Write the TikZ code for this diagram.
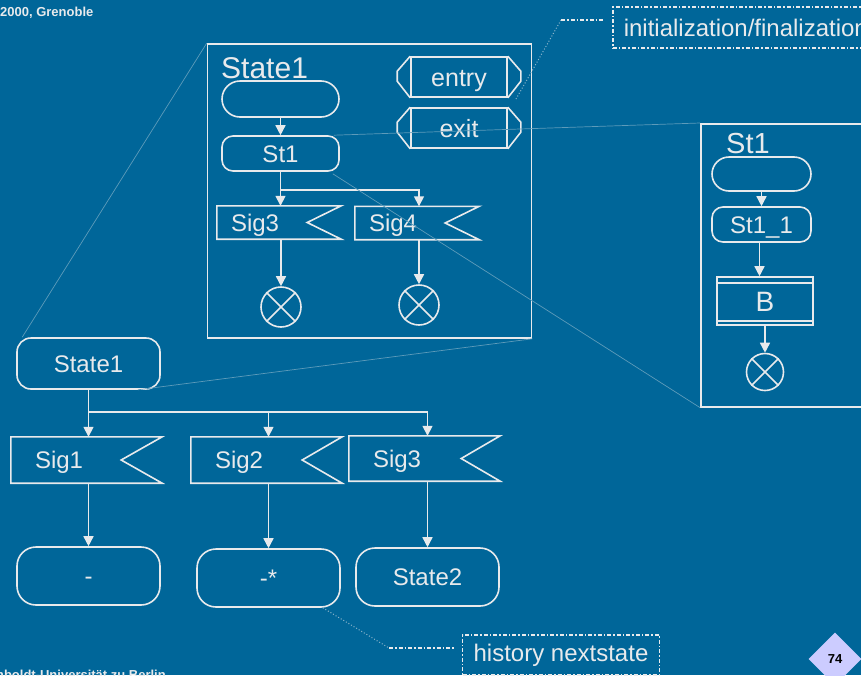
\documentclass[tikz,border=0pt]{standalone}
\usepackage{fontspec}
\setmainfont{Liberation Sans}
\usetikzlibrary{arrows.meta,shapes.geometric,calc}
\definecolor{bg}{RGB}{0,102,153}
\definecolor{fg}{RGB}{232,234,236}
\definecolor{tag}{RGB}{204,204,255}
\newcommand\fsz[1]{\fontsize{#1}{#1}\selectfont}
% input-signal outline: open right side with an inward notch
\newcommand\sigoutline[2]{\draw[ln] (#1.north east) -- (#1.north west) -- (#1.south west) -- (#1.south east) -- ([xshift=-#2pt]#1.east) -- cycle;}
% circle with a cross (stop symbol)
\newcommand\crossout[1]{\draw[ln] (#1.north west) -- (#1.south east) (#1.north east) -- (#1.south west);}
\begin{document}
\begin{tikzpicture}[x=1pt,y=-1pt,
  ln/.style={draw=fg,line width=1.6pt},
  arr/.style={draw=fg,line width=1.5pt,-{Triangle[width=10pt,length=10pt,fill=fg]}},
  zoomln/.style={draw=fg!40!bg,line width=0.7pt},
  lead/.style={draw=fg!60!bg,line width=1pt,dotted},
  dashdot/.style={draw=fg,line width=1.5pt,dash pattern=on 4pt off 2pt on 1.5pt off 2pt},
  t24/.style={font=\fsz{24},text height=17pt,text depth=0pt},
  state/.style={ln,text=fg,inner sep=0pt,t24,rounded corners=#1},
  state/.default=14pt,
  sig/.style={text=fg,inner ysep=0pt,inner xsep=#1,align=left,t24},
  stopc/.style={ln,circle,inner sep=0pt},
  hdr/.style={text=fg,inner sep=0pt,anchor=base west},
  proc/.style={ln,text=fg,font=\fsz{25},text height=18pt,text depth=0pt,minimum width=96pt,minimum height=40pt,inner sep=0pt},
  note/.style={dashdot,text=fg,font=\fsz{24},inner xsep=11pt,inner ysep=0pt}]

\useasboundingbox (0,0) rectangle (861,675);
\fill[bg] (0,0) rectangle (861,675);
\clip (0,0) rectangle (861,675);

% footer texts
\node[text=fg,font=\bfseries\fsz{13},anchor=west,inner sep=0pt] (conf) at (0,13) {2000, Grenoble};
\node[text=fg,font=\bfseries\fsz{13},anchor=base east,inner sep=0pt] (univ) at (166,679) {Humboldt-Universität zu Berlin};

% ---------- expanded state State1 ----------
\node[ln,minimum width=324pt,minimum height=294pt,inner sep=0pt] (frame) at (369.5,191) {};
\node[hdr,font=\fsz{30}] (fhdr) at (221,78) {State1};
\node[state=18pt,minimum width=117pt,minimum height=36pt] (fstart) at (280.5,99) {};
\node[state=11pt,minimum width=117pt,minimum height=35pt] (fst1) at (280.5,153.5) {St1};

% entry / exit procedures
\node[proc] (entry) at (459,77) {entry};
\node[proc] (exit) at (459,128) {exit};
\foreach \p in {entry,exit}{
  \draw[ln,line join=miter] (\p.north west) -- ++(-13,15) -- ++(0,10) -- (\p.south west);
  \draw[ln,line join=miter] (\p.north east) -- ++(13,15) -- ++(0,10) -- (\p.south east);
}

\node[sig=14pt,text width=96pt,minimum height=33pt] (fsig3) at (279,222.5) {Sig3};
\node[sig=14pt,text width=96pt,minimum height=33pt] (fsig4) at (417,223) {Sig4};
\sigoutline{fsig3}{34}
\sigoutline{fsig4}{34}
\node[stopc,minimum size=40pt] (fx1) at (281,307) {};
\node[stopc,minimum size=40pt] (fx2) at (419,305) {};
\crossout{fx1}
\crossout{fx2}

\draw[arr] (fstart) -- (fst1);
\draw[arr] (fst1.south) -- (fst1.south |- fsig3.north);
\draw[arr] (fst1.south) -- ++(0,18) -| (fx2.north |- fsig4.north);
\draw[arr] (fx1.north |- fsig3.south) -- (fx1.north);
\draw[arr] (fx2.north |- fsig4.south) -- (fx2.north);

% ---------- expanded state St1 ----------
\node[ln,minimum width=180pt,minimum height=283pt,inner sep=0pt,anchor=north west] (rframe) at (700,123) {};
\node[hdr,font=\fsz{29}] (rhdr) at (726,153) {St1};
\node[state=17pt,minimum width=99pt,minimum height=34pt] (rstart) at (761.5,174) {};
\node[state=11pt,minimum width=99pt,minimum height=35pt] (rst11) at (761.5,224.5) {St1\_1};
\node[ln,text=fg,font=\fsz{28},text height=20pt,text depth=0pt,minimum width=96pt,minimum height=48pt,inner sep=0pt] (rb) at (765,301) {B};
\draw[ln] ([yshift=-7pt]rb.north west) -- ([yshift=-7pt]rb.north east);
\draw[ln] ([yshift=5pt]rb.south west) -- ([yshift=5pt]rb.south east);
\node[stopc,minimum size=37pt] (rx) at (765,372) {};
\crossout{rx}
\draw[arr] (rstart) -- (rst11);
\draw[arr] ([xshift=-2pt]rst11.south) -- ([xshift=-2pt]rst11.south |- rb.north);
\draw[arr] (rb.south) -- (rx.north);

% ---------- top level ----------
\node[state,minimum width=143pt,minimum height=51pt] (s1) at (88.5,363.5) {State1};
\node[sig=24pt,text width=103pt,minimum height=46pt] (bs1) at (86.5,460) {Sig1};
\node[sig=24pt,text width=103pt,minimum height=46pt] (bs2) at (266.5,460) {Sig2};
\node[sig=24pt,text width=103pt,minimum height=45pt] (bs3) at (424.5,458.5) {Sig3};
\sigoutline{bs1}{41}
\sigoutline{bs2}{40}
\sigoutline{bs3}{39}
\node[state=19pt,minimum width=143pt,minimum height=58pt] (m1) at (88.5,576) {-};
\node[state=19pt,minimum width=143pt,minimum height=58pt] (m2) at (268.5,578) {-*};
\node[state=19pt,minimum width=143pt,minimum height=58pt] (m3) at (427.5,577) {State2};

\coordinate (bj) at ([yshift=-22pt]s1.south);
\draw[arr] (s1.south) -- (s1.south |- bs1.north);
\draw[arr] (bj) -| (m3.north |- bs3.north);
\draw[arr] (bj -| m2.north) -- (m2.north |- bs2.north);
\draw[arr] (m1.north |- bs1.south) -- (m1.north);
\draw[arr] (m2.north |- bs2.south) -- (m2.north);
\draw[arr] (m3.north |- bs3.south) -- (m3.north);

% ---------- zoom lines ----------
\draw[zoomln] (frame.north west) -- ([xshift=6pt]s1.north west);
\draw[zoomln] (frame.south east) -- ([xshift=-23pt]s1.south east);
\draw[zoomln] ([xshift=-6pt]fst1.north east) -- (rframe.north west);
\draw[zoomln] ([xshift=-7pt,yshift=-2pt]fst1.south east) -- (rframe.south west);

% ---------- notes ----------
\node[note,anchor=west,minimum height=41pt,text width=246pt,align=left] (ninit) at (612,27.5) {initialization/finalization};
\coordinate (ia) at (516,99);
\coordinate (ib) at (561,20);
\coordinate (ic) at (604,20);
\draw[lead] (ia) -- (ib);
\draw[dashdot] (ib) -- (ic);

\node[note,minimum height=40pt,minimum width=196pt] (nhist) at (561,655) {history nextstate};
\coordinate (ha) at ([xshift=-18pt]m2.south east);
\coordinate (hb) at (389,648);
\coordinate (hc) at (455,648);
\draw[lead] (ha) -- (hb);
\draw[dashdot] (hb) -- (hc);

% page tag
\node[diamond,fill=tag,minimum width=53pt,minimum height=53pt,inner sep=0pt,font=\bfseries\fsz{13}] (page) at (835,659) {74};
\end{tikzpicture}
\end{document}
